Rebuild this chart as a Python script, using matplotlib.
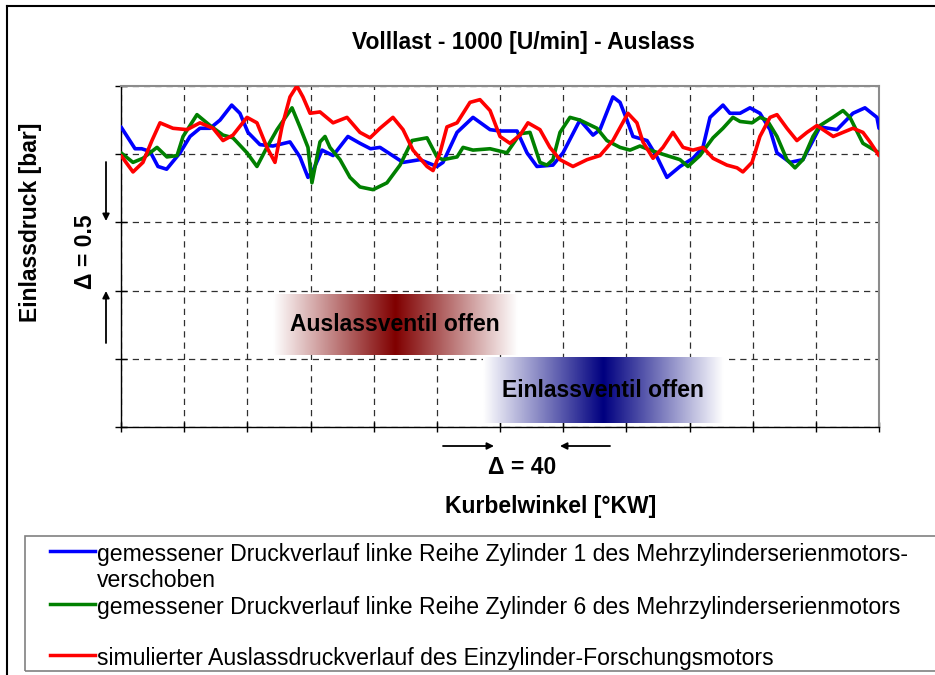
import matplotlib.pyplot as plt
import numpy as np
from matplotlib.colors import LinearSegmentedColormap
from matplotlib.lines import Line2D
from matplotlib.patches import Rectangle

plt.rcParams['font.family'] = ['Liberation Sans', 'DejaVu Sans']

# Kurbelwinkel [°KW] und Druck [bar]
blue_x = [0, 8.9, 13.1, 18.4, 23.4, 28.9, 37.4, 43.7, 50.0, 56.4, 62.7, 70.1, 75.3, 80.4,
          88.0, 96.2, 107.0, 113.3, 118.4, 121.6, 127.3, 134.3, 143.7, 151.3, 158.0,
          164.0, 178.6, 189.3, 200.1, 203.9, 212.8, 222.9, 233.7, 240.0, 250.8, 257.1,
          263.4, 273.5, 279.9, 290.6, 298.9, 303.3, 311.5, 316.0, 320.4, 324.2, 333.1,
          339.4, 345.7, 354.0, 362.2, 368.5, 373.0, 381.2, 385.6, 392.0, 398.3, 404.6,
          411.0, 415.4, 423.6, 431.8, 438.2, 442.6, 453.4, 463.5, 471.1, 478.7, 480]
blue_y = [2.20, 2.04, 2.04, 2.02, 1.91, 1.89, 2.01, 2.13, 2.19, 2.19, 2.25, 2.36, 2.30, 2.16,
          2.07, 2.06, 2.09, 1.98, 1.83, 1.88, 2.03, 1.99, 2.13, 2.08, 2.04,
          2.05, 1.94, 1.96, 1.91, 1.94, 2.16, 2.27, 2.18, 2.17, 2.17, 2.01,
          1.91, 1.92, 2.01, 2.25, 2.14, 2.18, 2.42, 2.38, 2.25, 2.13, 2.10,
          1.98, 1.83, 1.91, 1.97, 2.05, 2.27, 2.36, 2.30, 2.30, 2.34, 2.30,
          2.18, 2.01, 1.94, 1.96, 2.10, 2.20, 2.18, 2.30, 2.34, 2.27, 2.19]

green_x = [0, 7.6, 13.9, 22.8, 29.1, 35.5, 39.3, 48.1, 56.4, 64.6, 70.9, 79.8, 86.1, 92.4,
           98.8, 108.3, 113.3, 118.4, 120.9, 124.1, 126.0, 129.2, 132.3, 138.7, 145.0,
           151.3, 159.6, 168.4, 176.7, 184.3, 193.8, 200.1, 203.9, 212.8, 216.6, 222.9,
           233.7, 244.4, 252.7, 259.0, 265.3, 269.7, 273.5, 278.0, 284.3, 290.6, 301.4,
           307.7, 316.0, 322.3, 328.6, 335.0, 345.7, 354.0, 359.0, 366.6, 374.9, 381.2,
           387.5, 392.0, 399.6, 404.6, 409.1, 415.4, 421.7, 426.8, 431.8, 438.2, 442.6,
           450.8, 457.2, 461.6, 469.8, 480]
green_y = [2.01, 1.94, 1.97, 2.05, 1.98, 1.99, 2.13, 2.29, 2.21, 2.14, 2.12, 2.01, 1.91, 2.05,
           2.18, 2.34, 2.20, 2.05, 1.79, 1.98, 2.09, 2.13, 2.05, 1.96, 1.83,
           1.76, 1.74, 1.79, 1.92, 2.10, 2.12, 1.98, 1.96, 1.98, 2.05, 2.03,
           2.04, 2.01, 2.15, 2.16, 1.94, 1.92, 1.96, 2.16, 2.27, 2.25, 2.19,
           2.10, 2.05, 2.03, 2.06, 2.03, 1.99, 1.96, 1.91, 1.99, 2.12, 2.19,
           2.27, 2.24, 2.23, 2.27, 2.25, 2.13, 1.96, 1.90, 1.96, 2.13, 2.21,
           2.27, 2.32, 2.27, 2.08, 2.01]

red_x = [0, 7.6, 13.9, 19.6, 24.7, 32.9, 41.8, 50.0, 58.3, 64.6, 70.9, 79.8, 86.1, 92.4,
         97.5, 101.9, 107.0, 111.4, 115.2, 119.7, 126.0, 134.3, 143.1, 151.3, 157.7,
         164.0, 172.2, 178.6, 184.9, 193.8, 197.6, 202.0, 206.4, 212.8, 221.0, 227.3,
         233.7, 240.0, 246.3, 252.7, 257.7, 265.3, 271.6, 278.0, 286.2, 295.1, 303.3,
         311.5, 321.0, 326.7, 330.5, 336.9, 343.2, 349.5, 355.9, 362.2, 368.5, 374.9,
         383.7, 390.1, 393.8, 399.6, 404.6, 411.0, 415.4, 421.7, 428.0, 434.4, 440.7,
         451.0, 457.2, 463.5, 469.8, 474.3, 480]
red_y = [1.99, 1.87, 1.94, 2.10, 2.23, 2.19, 2.18, 2.23, 2.19, 2.10, 2.14, 2.27, 2.23, 2.05,
         1.94, 2.20, 2.42, 2.50, 2.42, 2.30, 2.31, 2.23, 2.27, 2.16, 2.12,
         2.19, 2.27, 2.18, 2.03, 1.91, 1.88, 2.01, 2.20, 2.23, 2.38, 2.40,
         2.32, 2.13, 2.08, 2.14, 2.23, 2.18, 2.05, 1.96, 1.91, 1.96, 1.99,
         2.10, 2.30, 2.23, 2.09, 1.97, 2.05, 2.16, 2.05, 2.03, 2.05, 1.97,
         1.92, 1.90, 1.87, 1.94, 2.13, 2.27, 2.29, 2.19, 2.10, 2.16, 2.21,
         2.13, 2.16, 2.19, 2.16, 2.09, 1.99]

labels = ["gemessener Druckverlauf linke Reihe Zylinder 1 des Mehrzylinderserienmotors-\nverschoben",
          "gemessener Druckverlauf linke Reihe Zylinder 6 des Mehrzylinderserienmotors",
          "simulierter Auslassdruckverlauf des Einzylinder-Forschungsmotors"]
colors = ['#0000ff', '#008000', '#ff0000']

# Ventil-Oeffnungsbereiche (KW von, bis, Druck von, bis)
aus_box = [96.2, 250.8, 0.53, 0.97]
ein_box = [229.2, 381.2, 0.03, 0.51]

W, H = 935, 675


def fx(px):
    return px / W


def fy(py):
    return 1 - py / H


def gradient_box(ax, box, color):
    cm = LinearSegmentedColormap.from_list('g', ['white', color])
    t = np.linspace(0, 1, 400)
    g = 1 - np.abs(2 * t - 1)
    ax.imshow(g[np.newaxis, :], extent=box, aspect='auto', cmap=cm,
              vmin=0, vmax=1, interpolation='bilinear', zorder=1)


fig = plt.figure(figsize=(9.35, 6.75), dpi=100)
ax = fig.add_axes([fx(121), fy(427), fx(879) - fx(121), fy(86) - fy(427)])

ax.set_axisbelow(True)
ax.grid(True, color='#303030', linestyle=(0, (5, 4)), lw=0.9)

gradient_box(ax, aus_box, '#800000')
gradient_box(ax, ein_box, '#000080')
ax.text((aus_box[0] + aus_box[1]) / 2, (aus_box[2] + aus_box[3]) / 2, 'Auslassventil offen',
        ha='center', va='center', fontsize=16.5, fontweight='bold', zorder=4)
ax.text((ein_box[0] + ein_box[1]) / 2, (ein_box[2] + ein_box[3]) / 2, 'Einlassventil offen',
        ha='center', va='center', fontsize=16.5, fontweight='bold', zorder=4)

for xs, ys, col in [(blue_x, blue_y, colors[0]), (green_x, green_y, colors[1]),
                    (red_x, red_y, colors[2])]:
    ax.plot(xs, ys, color=col, lw=2.6, zorder=3, solid_joinstyle='round',
            solid_capstyle='round')

ax.set_xlim(0, 480)
ax.set_ylim(0, 2.5)
ax.set_xticks(np.arange(0, 481, 40))
ax.set_yticks(np.arange(0, 2.51, 0.5))
ax.tick_params(axis='x', direction='inout', length=7, width=1,
               labelbottom=False)
ax.tick_params(axis='y', direction='inout', length=9, width=1,
               labelleft=False)
for s in ['top', 'right']:
    ax.spines[s].set_color('#8c8c8c')
    ax.spines[s].set_linewidth(1.5)
for s in ['left', 'bottom']:
    ax.spines[s].set_color('black')
    ax.spines[s].set_linewidth(1.0)

fig.text(fx(523), fy(42), 'Volllast - 1000 [U/min] - Auslass', ha='center', va='center',
         fontsize=16.5, fontweight='bold')
fig.text(fx(551), fy(507), 'Kurbelwinkel [°KW]', ha='center', va='center',
         fontsize=16.5, fontweight='bold')
fig.text(fx(30), fy(222), 'Einlassdruck [bar]', ha='center', va='center', rotation=90,
         fontsize=16.5, fontweight='bold')
fig.text(fx(85), fy(252), 'Δ = 0.5', ha='center', va='center', rotation=90,
         fontsize=16.5, fontweight='bold')
fig.text(fx(522), fy(467), 'Δ = 40', ha='center', va='center',
         fontsize=16.5, fontweight='bold')

arrow = dict(arrowstyle='-|>', lw=1.3, color='black', mutation_scale=10,
             shrinkA=0, shrinkB=0)
for start, end in [((106, 162), (106, 221)), ((106, 343), (106, 291)),
                   ((443, 446), (494, 446)), ((610, 446), (560, 446))]:
    ax.annotate('', xy=(fx(end[0]), fy(end[1])), xytext=(fx(start[0]), fy(start[1])),
                xycoords='figure fraction', textcoords='figure fraction',
                arrowprops=arrow, annotation_clip=False)

# Legende
fig.add_artist(Rectangle((fx(25), fy(671)), fx(945) - fx(25), fy(536) - fy(671),
                         transform=fig.transFigure, fill=False,
                         edgecolor='#808080', lw=1.2))
rows = [551, 604, 655]
for lab, col, r in zip(labels, colors, rows):
    fig.add_artist(Line2D([fx(50), fx(95)], [fy(r), fy(r)], color=col, lw=2.5,
                          transform=fig.transFigure))
    fig.text(fx(97), fy(r - 8), lab, ha='left', va='top', fontsize=16.6,
             linespacing=1.15)

# Rahmen
fig.add_artist(Line2D([fx(7), fx(7)], [fy(6), 0], color='black', lw=1.5,
                      transform=fig.transFigure))
fig.add_artist(Line2D([fx(7), 1], [fy(6), fy(6)], color='black', lw=1.5,
                      transform=fig.transFigure))

fig.savefig('out.png', dpi=100)
